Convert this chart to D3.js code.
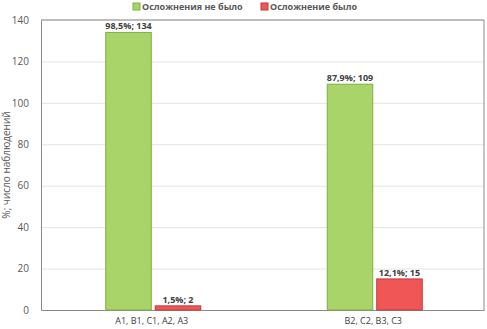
<!DOCTYPE html>
<html>
<head>
<meta charset="utf-8">
<script src="https://cdn.jsdelivr.net/npm/d3@7"></script>
<style>
  body { margin: 0; background: #fff; }
  text { font-family: "Open Sans", "DejaVu Sans", sans-serif; }
</style>
</head>
<body>
<svg id="drawing_region"></svg>
<script>
const categories = ['A1, B1, C1, A2, A3', 'B2, C2, B3, C3'];
const seriesNames = ['Осложнения не было', 'Осложнение было'];
const noComplication = [134, 109];
const complication = [2, 15];
const noComplicationPct = ['98,5%', '87,9%'];
const complicationPct = ['1,5%', '12,1%'];
const yTicks = [0, 20, 40, 60, 80, 100, 120, 140];

const colors = [{fill: '#a9d46a', stroke: '#7fae42'}, {fill: '#f05656', stroke: '#c23a3a'}];

const width = 487, height = 329;
const margin = {top: 20, right: 3, bottom: 19, left: 41};
const innerW = width - margin.left - margin.right;
const innerH = height - margin.top - margin.bottom;

const svg = d3.select('#drawing_region').attr('width', width).attr('height', height);
const chart = svg.append('g').attr('transform', `translate(${margin.left}, ${margin.top})`);

const xscale = d3.scaleBand().domain(categories).range([0, innerW]);
const inner = d3.scaleBand().domain([0, 1]).range([xscale.bandwidth() / 2 - 46, xscale.bandwidth() / 2 + 49]).paddingInner(0.08);
const yscale = d3.scaleLinear().domain([0, 140]).range([innerH, 0]);

// gridlines
chart.append('g')
    .call(d3.axisLeft(yscale).tickValues(yTicks).tickSize(-innerW).tickFormat(''))
    .call(g => g.select('.domain').remove())
    .call(g => g.selectAll('line').attr('stroke', '#e4e4e4'));

// frame
chart.append('line').attr('x1', 0).attr('x2', innerW).attr('y1', 0).attr('y2', 0)
    .attr('stroke', '#bdbdbd').attr('stroke-width', 2);
chart.append('line').attr('x1', innerW).attr('x2', innerW).attr('y1', 0).attr('y2', innerH)
    .attr('stroke', '#8a8a8a');

// y axis
chart.append('g')
    .call(d3.axisLeft(yscale).tickValues(yTicks).tickSize(0).tickPadding(12))
    .call(g => g.select('.domain').attr('stroke', '#8a8a8a'))
    .call(g => g.selectAll('text').attr('fill', '#595959').attr('font-size', 10));

// x axis
chart.append('g')
    .attr('transform', `translate(0, ${innerH})`)
    .call(d3.axisBottom(xscale).tickSize(0).tickPadding(8))
    .call(g => g.select('.domain').attr('stroke', '#8a8a8a'))
    .call(g => g.selectAll('text').attr('fill', '#404040').attr('font-size', 9));

const series = [
    {values: noComplication, pct: noComplicationPct},
    {values: complication, pct: complicationPct}
];

series.forEach((s, i) => {
    const rows = categories.map((c, j) => ({cat: c, value: s.values[j], pct: s.pct[j]}));
    const g = chart.append('g');
    g.selectAll('rect').data(rows).join('rect')
        .attr('x', d => xscale(d.cat) + inner(i))
        .attr('y', d => yscale(d.value))
        .attr('width', inner.bandwidth())
        .attr('height', d => innerH - yscale(d.value))
        .attr('fill', colors[i].fill)
        .attr('stroke', colors[i].stroke)
        .attr('stroke-width', 1);
    g.selectAll('text').data(rows).join('text')
        .attr('x', d => xscale(d.cat) + inner(i) + inner.bandwidth() / 2)
        .attr('y', d => yscale(d.value) - 3)
        .attr('text-anchor', 'middle')
        .attr('font-size', 9)
        .attr('font-weight', 'bold')
        .attr('fill', '#404040')
        .text(d => `${d.pct}; ${d.value}`);
});

// y title
svg.append('text')
    .attr('transform', `translate(10, ${margin.top + innerH / 2}) rotate(-90)`)
    .attr('text-anchor', 'middle')
    .attr('font-size', 10)
    .attr('fill', '#595959')
    .text('%; число наблюдений');

// legend
const legendX = [133, 261];
const legend = svg.append('g');
seriesNames.forEach((name, i) => {
    legend.append('rect')
        .attr('x', legendX[i]).attr('y', 3)
        .attr('width', 7).attr('height', 7)
        .attr('fill', colors[i].fill).attr('stroke', colors[i].stroke);
    legend.append('text')
        .attr('x', legendX[i] + 9).attr('y', 10)
        .attr('font-size', 9)
        .attr('font-weight', 'bold')
        .attr('fill', '#595959')
        .text(name);
});
</script>
</body>
</html>
